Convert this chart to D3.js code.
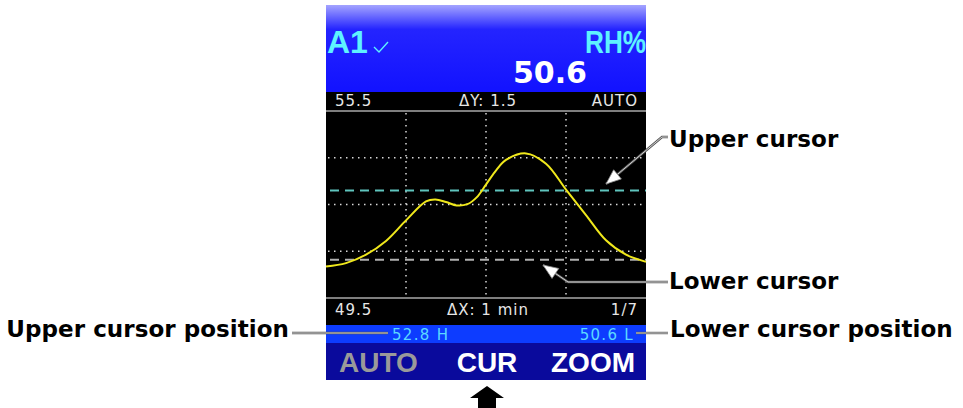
<!DOCTYPE html>
<html>
<head>
<meta charset="utf-8">
<script src="https://cdn.jsdelivr.net/npm/d3@7"></script>
<style>
  html, body { margin: 0; padding: 0; background: #fff; }
  svg { display: block; }
</style>
</head>
<body>
<svg id="chart" width="963" height="408"></svg>
<script>
// Trend values (seconds from left edge, RH%)
const times = [0, 15, 30, 45, 60, 75, 82, 90, 98, 106, 113, 120, 128, 135, 150, 165, 180, 195, 210, 225, 240];
const rhValues = [50.51, 50.62, 50.89, 51.33, 51.99, 52.60, 52.66, 52.58, 52.47, 52.51, 52.73, 53.14, 53.62, 53.93, 54.14, 53.81, 52.98, 52.16, 51.35, 50.89, 50.66];

// Axis setup (ΔY 1.5 per div, ΔX 1 min per div)
const yDomain = [49.5, 55.5];
const xDomain = [0, 240];
const yGrid = [51, 52.5, 54];
const xGrid = [60, 120, 180];

// Cursors: upper / lower
const cursorLevels = [52.95, 50.73];
const cursorColors = ["#5fc4bd", "#b0b0b0"];
const cursorLabels = ["52.8 H", "50.6 L"];

// Text on the device screen
const channel = "A1";
const unit = "RH%";
const reading = "50.6";
const topBar = ["55.5", "ΔY: 1.5", "AUTO"];
const bottomBar = ["49.5", "ΔX: 1 min", "1/7"];
const softKeys = ["AUTO", "CUR", "ZOOM"];

const svg = d3.select("#chart");
const L = 326, R = 646;

const x = d3.scaleLinear().domain(xDomain).range([L, R]);
const y = d3.scaleLinear().domain(yDomain).range([298, 111]);

// header gradient
const defs = svg.append("defs");
const grad = defs.append("linearGradient")
  .attr("id", "hdr").attr("x1", 0).attr("y1", 0).attr("x2", 0).attr("y2", 1);
grad.append("stop").attr("offset", "0%").attr("stop-color", "#a4a4ff");
grad.append("stop").attr("offset", "28%").attr("stop-color", "#2424ff");
grad.append("stop").attr("offset", "100%").attr("stop-color", "#1212ff");

// Screen panels
svg.append("rect").attr("x", L).attr("y", 5).attr("width", R - L).attr("height", 87).attr("fill", "url(#hdr)");
svg.append("rect").attr("x", L).attr("y", 92).attr("width", R - L).attr("height", 233).attr("fill", "#000");
svg.append("rect").attr("x", L).attr("y", 325).attr("width", R - L).attr("height", 18).attr("fill", "#0d3cff");
svg.append("rect").attr("x", L).attr("y", 343).attr("width", R - L).attr("height", 37).attr("fill", "#0a0a9c");

// separator lines
[111, 298].forEach(v => {
  svg.append("line").attr("x1", L).attr("x2", R).attr("y1", v).attr("y2", v)
    .attr("stroke", "#a8a8a8").attr("stroke-width", 1.5);
});

// Header text
svg.append("text").attr("x", L + 1).attr("y", 53)
  .attr("font-family", "Liberation Sans, Arial, sans-serif").attr("font-weight", "bold")
  .attr("font-size", 32).attr("fill", "#5ef2ff").text(channel);
svg.append("path").attr("d", "M374,47 L379,52 L388,42")
  .attr("fill", "none").attr("stroke", "#5ef2ff").attr("stroke-width", 1.4);
svg.append("text").attr("x", R).attr("y", 53).attr("text-anchor", "end")
  .attr("font-family", "Liberation Sans, Arial, sans-serif").attr("font-weight", "bold")
  .attr("font-size", 32).attr("fill", "#5ef2ff")
  .attr("textLength", 61).attr("lengthAdjust", "spacingAndGlyphs").text(unit);
svg.append("text").attr("x", 587).attr("y", 83).attr("text-anchor", "end")
  .attr("font-family", "DejaVu Sans, Verdana, sans-serif").attr("font-weight", "bold")
  .attr("font-size", 30).attr("fill", "#fff").text(reading);

// Info bars
function infoBar(labels, yy) {
  const anchors = ["start", "middle", "end"];
  const xs = [335, 488, 638];
  labels.forEach((t, i) => {
    svg.append("text").attr("x", xs[i]).attr("y", yy).attr("text-anchor", anchors[i])
      .attr("font-family", "DejaVu Sans, Verdana, sans-serif").attr("font-size", 15)
      .attr("letter-spacing", 1).attr("fill", "#e6e6e6").text(t);
  });
}
infoBar(topBar, 106);
infoBar(bottomBar, 315);

// Grid
const grid = svg.append("g").attr("stroke", "#d8d8d8").attr("stroke-width", 1.5)
  .attr("stroke-dasharray", "1.5,4.5");
grid.selectAll(".hg").data(yGrid).enter().append("line")
  .attr("x1", L + 2).attr("x2", R).attr("y1", d => y(d)).attr("y2", d => y(d));
grid.selectAll(".vg").data(xGrid).enter().append("line")
  .attr("x1", d => x(d)).attr("x2", d => x(d)).attr("y1", y(yDomain[1]) + 2).attr("y2", y(yDomain[0]));

// Cursor lines
svg.selectAll(".cursor").data(cursorLevels).enter().append("line")
  .attr("x1", L + 4).attr("x2", R).attr("y1", d => y(d)).attr("y2", d => y(d))
  .attr("stroke", (d, i) => cursorColors[i]).attr("stroke-width", 2)
  .attr("stroke-dasharray", "9,6");

// Trend curve
const pts = times.map((t, i) => [t, rhValues[i]]);
svg.append("path").datum(pts)
  .attr("fill", "none").attr("stroke", "#f0e81c").attr("stroke-width", 2)
  .attr("d", d3.line().x(d => x(d[0])).y(d => y(d[1])).curve(d3.curveCatmullRom.alpha(0.5)));

// Cursor position bar
svg.append("text").attr("x", 392).attr("y", 340)
  .attr("font-family", "DejaVu Sans, Verdana, sans-serif").attr("font-size", 15)
  .attr("letter-spacing", 1.3).attr("fill", "#5cd8ff").text(cursorLabels[0]);
svg.append("text").attr("x", 634).attr("y", 340).attr("text-anchor", "end")
  .attr("font-family", "DejaVu Sans, Verdana, sans-serif").attr("font-size", 15)
  .attr("letter-spacing", 1.3).attr("fill", "#5cd8ff").text(cursorLabels[1]);

// Soft keys
const keyX = [339, 487, 635];
const keyAnchor = ["start", "middle", "end"];
const keyColor = ["#9a9a9a", "#fff", "#fff"];
softKeys.forEach((k, i) => {
  svg.append("text").attr("x", keyX[i]).attr("y", 372).attr("text-anchor", keyAnchor[i])
    .attr("font-family", "Liberation Sans, Arial, sans-serif").attr("font-weight", "bold")
    .attr("font-size", 28).attr("fill", keyColor[i]).text(k);
});

// Big arrow below the CUR key
svg.append("path").attr("d", "M487,386 L504,398 L496,398 L496,408 L478,408 L478,398 L470,398 Z")
  .attr("fill", "#000");

// Callouts
function callout(points, tip) {
  const d = "M" + points.map(p => p.join(",")).join(" L");
  svg.append("path").attr("d", d).attr("fill", "none").attr("stroke", "#555").attr("stroke-width", 2.4);
  svg.append("path").attr("d", d).attr("fill", "none").attr("stroke", "#e0e0e0").attr("stroke-width", 0.9);
  if (tip) {
    const [p0, p1] = [points[points.length - 2], points[points.length - 1]];
    const ang = Math.atan2(p1[1] - p0[1], p1[0] - p0[0]);
    const len = 15, half = 6;
    const bx = p1[0] - len * Math.cos(ang), by = p1[1] - len * Math.sin(ang);
    const a = [bx + half * Math.sin(ang), by - half * Math.cos(ang)];
    const b = [bx - half * Math.sin(ang), by + half * Math.cos(ang)];
    svg.append("path").attr("d", `M${p1[0]},${p1[1]} L${a} L${b} Z`)
      .attr("fill", "#fff").attr("stroke", "#888").attr("stroke-width", 0.8);
  }
}
callout([[668, 137], [662, 137], [606, 184]], true);
callout([[668, 282], [568, 282], [543, 265]], true);
callout([[292, 333], [388, 333]], false);
callout([[636, 333], [668, 333]], false);

// Annotation labels
const note = (t, xx, yy, anchor) => svg.append("text").attr("x", xx).attr("y", yy)
  .attr("text-anchor", anchor || "start")
  .attr("font-family", "DejaVu Sans, Verdana, sans-serif").attr("font-weight", "bold")
  .attr("font-size", 23).attr("letter-spacing", 0.05).attr("fill", "#000").text(t);
note("Upper cursor", 669, 147);
note("Lower cursor", 669, 289);
note("Upper cursor position", 289, 337, "end");
note("Lower cursor position", 670, 337);
</script>
</body>
</html>
